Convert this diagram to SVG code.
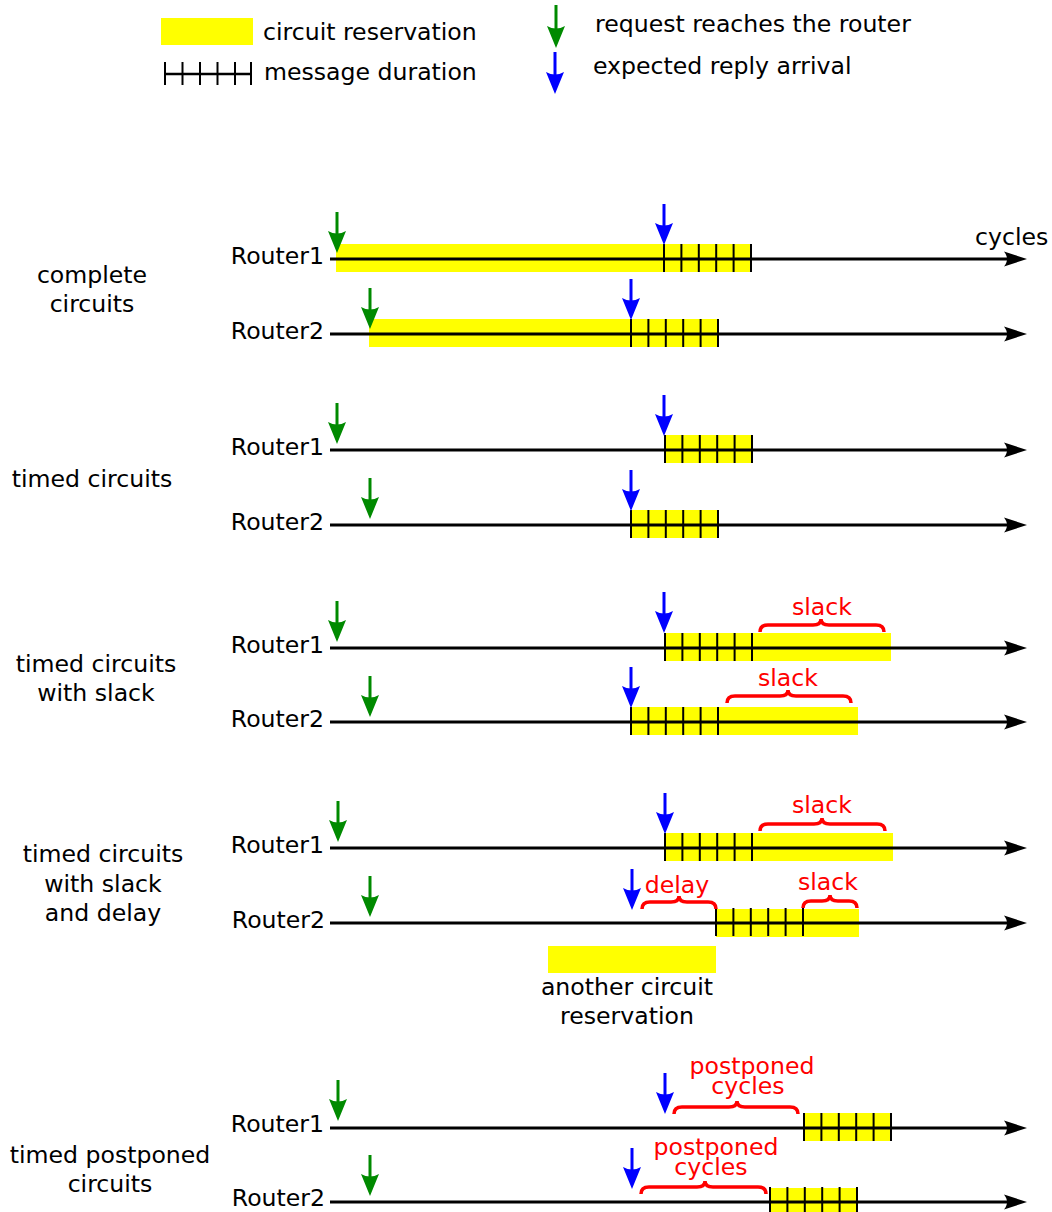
<svg xmlns="http://www.w3.org/2000/svg" xmlns:xlink="http://www.w3.org/1999/xlink" width="1052" height="1212" viewBox="0 0 1052 1212">
<style>
text{font-family:"DejaVu Sans","Liberation Sans",sans-serif;font-size:23.6px;fill:#000}
.m{text-anchor:middle}
.e{text-anchor:end}
.red{fill:#ff0000}
.res{fill:#ffff00}
.axis{stroke:#000;stroke-width:3;fill:none}
.tk{stroke:#000;stroke-width:2}
.brace{stroke:#ff0000;stroke-width:3.5;fill:none}
</style>
<defs>
<path id="th" d="M0,0 L-23,-7.5 C-19,-2.5 -19,2.5 -23,7.5 Z" fill="#000"/>
<g id="ticks" class="tk">
<line x1="0" y1="-15" x2="0" y2="13"/><line x1="17.4" y1="-15" x2="17.4" y2="13"/><line x1="34.8" y1="-15" x2="34.8" y2="13"/><line x1="52.2" y1="-15" x2="52.2" y2="13"/><line x1="69.6" y1="-15" x2="69.6" y2="13"/><line x1="87" y1="-15" x2="87" y2="13"/>
</g>
<g id="ga"><line x1="0" y1="-41" x2="0" y2="-16" stroke="#008a00" stroke-width="3"/><path d="M0,0 L-9,-22 Q0,-17 9,-22 Z" fill="#008a00"/></g>
<g id="ba"><line x1="0" y1="-41" x2="0" y2="-16" stroke="#0000ff" stroke-width="3"/><path d="M0,0 L-9,-22 Q0,-17 9,-22 Z" fill="#0000ff"/></g>
</defs>

<g id="legend">
<rect class="res" x="161" y="18" width="92" height="27"/>
<text x="263" y="40">circuit reservation</text>
<line class="axis" x1="165" y1="74" x2="251" y2="74" style="stroke-width:2.5"/>
<g class="tk"><line x1="165" y1="62" x2="165" y2="85"/><line x1="182.5" y1="62" x2="182.5" y2="85"/><line x1="200" y1="62" x2="200" y2="85"/><line x1="217.5" y1="62" x2="217.5" y2="85"/><line x1="235" y1="62" x2="235" y2="85"/><line x1="251" y1="62" x2="251" y2="85"/></g>
<text x="264" y="80">message duration</text>
<g transform="translate(556,48)"><line x1="0" y1="-43" x2="0" y2="-16" stroke="#008a00" stroke-width="3"/><path d="M0,0 L-9,-22 Q0,-17 9,-22 Z" fill="#008a00"/></g>
<text x="595" y="32">request reaches the router</text>
<g transform="translate(555,94)"><line x1="0" y1="-42" x2="0" y2="-16" stroke="#0000ff" stroke-width="3"/><path d="M0,0 L-9,-22 Q0,-17 9,-22 Z" fill="#0000ff"/></g>
<text x="593" y="74">expected reply arrival</text>
</g>

<g id="section-labels">
<text class="m" x="92" y="283">complete</text>
<text class="m" x="92" y="312">circuits</text>
<text class="m" x="92" y="487">timed circuits</text>
<text class="m" x="96" y="672">timed circuits</text>
<text class="m" x="96" y="701">with slack</text>
<text class="m" x="103" y="862">timed circuits</text>
<text class="m" x="103" y="892">with slack</text>
<text class="m" x="103" y="921">and delay</text>
<text class="m" x="110" y="1163">timed postponed</text>
<text class="m" x="110" y="1192">circuits</text>
<text x="975" y="245">cycles</text>
</g>

<!-- Row 1: complete circuits -->
<g id="r1-router1">
<rect class="res" x="336" y="244" width="415" height="28"/>
<line class="axis" x1="330" y1="259" x2="1010" y2="259"/><use xlink:href="#th" x="1027" y="259"/>
<use xlink:href="#ticks" x="664" y="259"/>
<text class="e" x="324" y="264">Router1</text>
</g>
<g id="r1-router2">
<rect class="res" x="369" y="319" width="348" height="28"/>
<line class="axis" x1="330" y1="334" x2="1010" y2="334"/><use xlink:href="#th" x="1027" y="334"/>
<use xlink:href="#ticks" x="631" y="334"/>
<text class="e" x="324" y="339">Router2</text>
</g>

<!-- Row 2: timed circuits -->
<g id="r2-router1">
<rect class="res" x="665" y="435" width="86" height="28"/>
<line class="axis" x1="330" y1="450" x2="1010" y2="450"/><use xlink:href="#th" x="1027" y="450"/>
<use xlink:href="#ticks" x="665" y="450"/>
<text class="e" x="324" y="455">Router1</text>
</g>
<g id="r2-router2">
<rect class="res" x="631" y="510" width="86" height="28"/>
<line class="axis" x1="330" y1="525" x2="1010" y2="525"/><use xlink:href="#th" x="1027" y="525"/>
<use xlink:href="#ticks" x="631" y="525"/>
<text class="e" x="324" y="530">Router2</text>
</g>

<!-- Row 3: timed circuits with slack -->
<g id="r3-router1">
<rect class="res" x="665" y="633" width="226" height="28"/>
<line class="axis" x1="330" y1="648" x2="1010" y2="648"/><use xlink:href="#th" x="1027" y="648"/>
<use xlink:href="#ticks" x="665" y="648"/>
<text class="e" x="324" y="653">Router1</text>
<path class="brace" d="M760,632 Q760,625 768,625 L813,625 Q821,625 821,619 Q821,625 829,625 L876,625 Q884,625 884,632"/>
<text class="m red" x="822" y="615">slack</text>
</g>
<g id="r3-router2">
<rect class="res" x="631" y="707" width="227" height="28"/>
<line class="axis" x1="330" y1="722" x2="1010" y2="722"/><use xlink:href="#th" x="1027" y="722"/>
<use xlink:href="#ticks" x="631" y="722"/>
<text class="e" x="324" y="727">Router2</text>
<path class="brace" d="M727,703 Q727,696 735,696 L780,696 Q788,696 788,690 Q788,696 796,696 L843,696 Q851,696 851,703"/>
<text class="m red" x="788" y="686">slack</text>
</g>

<!-- Row 4: timed circuits with slack and delay -->
<g id="r4-router1">
<rect class="res" x="665" y="833" width="228" height="28"/>
<line class="axis" x1="330" y1="848" x2="1010" y2="848"/><use xlink:href="#th" x="1027" y="848"/>
<use xlink:href="#ticks" x="665" y="848"/>
<text class="e" x="324" y="853">Router1</text>
<path class="brace" d="M760,831 Q760,824 768,824 L814,824 Q822,824 822,818 Q822,824 830,824 L877,824 Q885,824 885,831"/>
<text class="m red" x="822" y="813">slack</text>
</g>
<g id="r4-router2">
<rect class="res" x="716" y="909" width="143" height="28"/>
<line class="axis" x1="330" y1="923" x2="1010" y2="923"/><use xlink:href="#th" x="1027" y="923"/>
<use xlink:href="#ticks" x="716" y="923"/>
<text class="e" x="325" y="928">Router2</text>
<path class="brace" d="M642,909 Q642,902 650,902 L671,902 Q679,902 679,896 Q679,902 687,902 L708,902 Q716,902 716,909"/>
<text class="m red" x="677" y="893">delay</text>
<path class="brace" d="M803,908 Q803,901 811,901 L822,901 Q830,901 830,895 Q830,901 838,901 L849,901 Q857,901 857,908"/>
<text class="m red" x="828" y="890">slack</text>
</g>
<g id="other-reservation">
<rect class="res" x="548" y="946" width="168" height="27"/>
<text class="m" x="627" y="995">another circuit</text>
<text class="m" x="627" y="1024">reservation</text>
</g>

<!-- Row 5: timed postponed circuits -->
<g id="r5-router1">
<rect class="res" x="804" y="1113" width="88" height="28"/>
<line class="axis" x1="330" y1="1128" x2="1010" y2="1128"/><use xlink:href="#th" x="1027" y="1128"/>
<use xlink:href="#ticks" x="804" y="1128"/>
<text class="e" x="324" y="1132">Router1</text>
<path class="brace" d="M674,1114 Q674,1107 682,1107 L729,1107 Q737,1107 737,1101 Q737,1107 745,1107 L790,1107 Q798,1107 798,1114"/>
<text class="m red" x="752" y="1074">postponed</text>
<text class="m red" x="748" y="1094">cycles</text>
</g>
<g id="r5-router2">
<rect class="res" x="770" y="1188" width="88" height="28"/>
<line class="axis" x1="330" y1="1202" x2="1010" y2="1202"/><use xlink:href="#th" x="1027" y="1202"/>
<use xlink:href="#ticks" x="770" y="1202"/>
<text class="e" x="325" y="1206">Router2</text>
<path class="brace" d="M641,1194 Q641,1187 649,1187 L697,1187 Q705,1187 705,1181 Q705,1187 713,1187 L758,1187 Q766,1187 766,1194"/>
<text class="m red" x="716" y="1155">postponed</text>
<text class="m red" x="711" y="1175">cycles</text>
</g>

<g id="connectors">
<use xlink:href="#ga" x="337" y="253"/><use xlink:href="#ba" x="664" y="245"/>
<use xlink:href="#ga" x="370" y="329"/><use xlink:href="#ba" x="631" y="320"/>
<use xlink:href="#ga" x="337" y="444"/><use xlink:href="#ba" x="664" y="436"/>
<use xlink:href="#ga" x="370" y="519"/><use xlink:href="#ba" x="631" y="511"/>
<use xlink:href="#ga" x="337" y="642"/><use xlink:href="#ba" x="664" y="633"/>
<use xlink:href="#ga" x="370" y="717"/><use xlink:href="#ba" x="631" y="708"/>
<use xlink:href="#ga" x="338" y="842"/><use xlink:href="#ba" x="665" y="834"/>
<use xlink:href="#ga" x="370" y="917"/><use xlink:href="#ba" x="632" y="910"/>
<use xlink:href="#ga" x="338" y="1121"/><use xlink:href="#ba" x="665" y="1114"/>
<use xlink:href="#ga" x="370" y="1196"/><use xlink:href="#ba" x="632" y="1189"/>
</g>
</svg>
